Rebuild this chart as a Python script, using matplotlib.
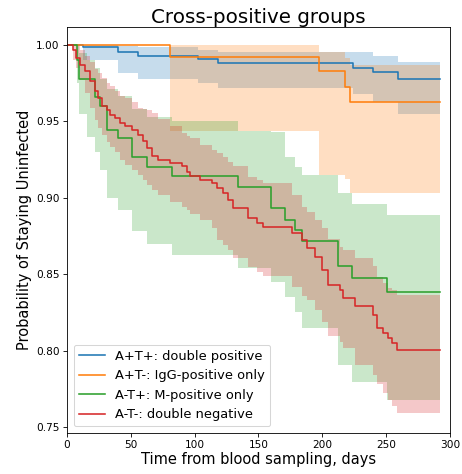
import matplotlib
matplotlib.use("Agg")
import matplotlib.pyplot as plt

# Kaplan-Meier curves: event times (days), survival, CI bounds
blue_t = [0, 12.5, 40, 56, 103, 118, 224, 240, 259, 292]
blue_s = [1.0, 0.9985, 0.9956, 0.9928, 0.9906, 0.9884, 0.985, 0.9825, 0.9777, 0.9777]
blue_lo = [1.0, 0.990, 0.982, 0.978, 0.975, 0.972, 0.968, 0.963, 0.955, 0.955]
blue_hi = [1.0, 1.0, 0.9995, 0.999, 0.9967, 0.9954, 0.9954, 0.993, 0.989, 0.989]

orange_t = [0, 80.7, 197.5, 218, 222, 292]
orange_s = [1.0, 0.992, 0.9828, 0.9723, 0.9627, 0.9627]
orange_lo = [1.0, 0.944, 0.915, 0.912, 0.903, 0.903]
orange_hi = [1.0, 1.0, 0.9954, 0.9915, 0.987, 0.987]

green_t = [0, 7.5, 9.5, 16, 21.9, 25.8, 31, 40.2, 50.7, 62.4, 82, 134, 160, 171,
           178.6, 183.8, 212.5, 223, 250.4, 292]
green_s = [1.0, 0.99, 0.978, 0.978, 0.966, 0.960, 0.9446, 0.939, 0.9267, 0.9205, 0.9146,
           0.9074, 0.8935, 0.8855, 0.879, 0.872, 0.8554, 0.8473, 0.8381, 0.8381]
green_lo = [1.0, 0.975, 0.955, 0.94, 0.93, 0.918, 0.90, 0.892, 0.878, 0.870, 0.8626,
            0.854, 0.845, 0.835, 0.8255, 0.815, 0.7906, 0.7797, 0.7677, 0.7677]
green_hi = [1.0, 1.0, 0.995, 0.99, 0.985, 0.978, 0.971, 0.967, 0.958, 0.953, 0.95,
            0.944, 0.943, 0.927, 0.92, 0.915, 0.903, 0.896, 0.8887, 0.8887]

red_t = [0, 4.9, 7.0, 10.2, 14.1, 18.0, 21.9, 24.5, 27.2, 31.1, 33.7,
         37.6, 41.5, 45.4, 50.7, 55.8, 59.8, 62.4, 66.3, 71.5, 80.7,
         89.8, 93.8, 96.3, 104.2, 113.3, 117.3, 122.4, 126.3, 130.3, 142.0,
         148.6, 153.8, 176.6, 183.8, 187.8, 194.3, 199.5, 204.7, 213.8, 216.4,
         225.6, 239.9, 242.6, 247.7, 251.7, 254.3, 258.7, 292]
red_s = [1.0, 0.9967, 0.9915, 0.9869, 0.9828, 0.9762, 0.9697, 0.9653, 0.9599, 0.9577, 0.9544,
         0.9522, 0.9490, 0.9468, 0.9446, 0.9413, 0.9370, 0.9326, 0.9274, 0.9249, 0.9228,
         0.9208, 0.9171, 0.9143, 0.9117, 0.9097, 0.9062, 0.9029, 0.8986, 0.8931, 0.8866,
         0.8833, 0.8812, 0.8768, 0.8724, 0.8670, 0.8615, 0.8528, 0.8429, 0.8397, 0.8342,
         0.8292, 0.8233, 0.8148, 0.8113, 0.8081, 0.8048, 0.8004, 0.8004]
red_hi = [1.0, 1.0, 0.9993, 0.9967, 0.9928, 0.9889, 0.9843, 0.9817, 0.9784, 0.9751, 0.9732,
          0.9699, 0.9666, 0.9653, 0.9627, 0.9588, 0.9581, 0.9575, 0.9555, 0.9516, 0.9470,
          0.9424, 0.9404, 0.9391, 0.9346, 0.9313, 0.9293, 0.9267, 0.9234, 0.9208, 0.9136,
          0.9116, 0.9097, 0.9018, 0.8940, 0.8907, 0.8855, 0.8802, 0.8730, 0.8678, 0.8658,
          0.8606, 0.8554, 0.8482, 0.8442, 0.8410, 0.8397, 0.8364, 0.8364]
red_lo = [1.0, 0.9902, 0.9849, 0.9771, 0.9686, 0.9588, 0.9509, 0.9457, 0.9411, 0.9365, 0.9332,
          0.9300, 0.9247, 0.9215, 0.9182, 0.9149, 0.9116, 0.9084, 0.9051, 0.9018, 0.8973,
          0.8940, 0.8920, 0.8894, 0.8855, 0.8802, 0.8724, 0.8691, 0.8658, 0.8606, 0.8547,
          0.8514, 0.8488, 0.8416, 0.8357, 0.8331, 0.8266, 0.8187, 0.8096, 0.8056, 0.8017,
          0.7906, 0.7840, 0.7781, 0.7722, 0.7677, 0.7637, 0.7592, 0.7592]

labels = [
    "A+T+: double positive",
    "A+T-: IgG-positive only",
    "A-T+: M-positive only",
    "A-T-: double negative",
]
colors = ["#1f77b4", "#ff7f0e", "#2ca02c", "#d62728"]


def main():
    dpi = 75.6
    fig = plt.figure(figsize=(462 / dpi, 474 / dpi), dpi=dpi)
    ax = fig.add_axes([0.145, 0.0865, 0.829, 0.857])

    groups = [
        (blue_t, blue_s, blue_lo, blue_hi),
        (orange_t, orange_s, orange_lo, orange_hi),
        (green_t, green_s, green_lo, green_hi),
        (red_t, red_s, red_lo, red_hi),
    ]
    for (t, s, lo, hi), lab, c in zip(groups, labels, colors):
        ax.plot(t, s, drawstyle="steps-post", color=c, lw=1.5, label=lab)
        ax.fill_between(t, lo, hi, step="post", color=c, alpha=0.25, linewidth=0)

    ax.set_xlim(0, 300)
    ax.set_ylim(0.746, 1.012)
    ax.set_xticks(range(0, 301, 50))
    ax.set_yticks([0.75, 0.80, 0.85, 0.90, 0.95, 1.00])
    ax.tick_params(labelsize=10)
    ax.set_title("Cross-positive groups", fontsize=19, pad=3)
    ax.set_xlabel("Time from blood sampling, days", fontsize=14, labelpad=2)
    ax.set_ylabel("Probability of Staying Uninfected", fontsize=14, labelpad=4)
    ax.legend(loc="lower left", fontsize=12.4)

    fig.savefig("out.png", dpi=dpi)
    plt.close(fig)


if __name__ == "__main__":
    main()
